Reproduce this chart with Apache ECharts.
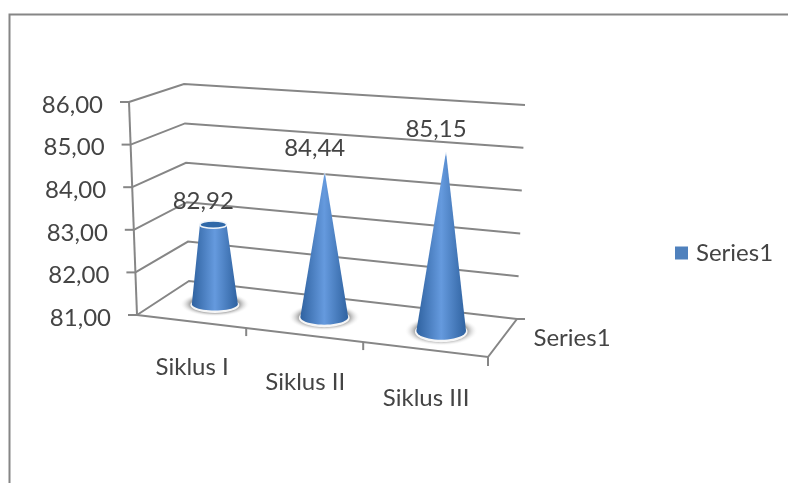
<!DOCTYPE html>
<html>
<head>
<meta charset="utf-8">
<style>
  html, body { margin: 0; padding: 0; background: #fff; }
  #chart { width: 788px; height: 483px; }
</style>
<script src="https://cdn.jsdelivr.net/npm/echarts@6/dist/echarts.min.js"></script>
</head>
<body>
<div id="chart"></div>
<script>
const categories = ['Siklus I', 'Siklus II', 'Siklus III'];
const values = [82.92, 84.44, 85.15];
const valueLabels = ['82,92', '84,44', '85,15'];
const topRatio = [0.58, 0, 0];
const valueTicks = [81, 82, 83, 84, 85, 86];
const tickLabels = ['81,00', '82,00', '83,00', '84,00', '85,00', '86,00'];
const seriesName = 'Series1';

const FONT = '24px Lato';
const TEXT = '#444';
const LINE = '#868686';

// corners of the 3d box on the page: front/back, left/right, bottom/top
const box = {
  flb: [137, 315], flt: [129, 102],
  blb: [189, 281], blt: [184, 84],
  frb: [488, 357], frt: [497, 135],
  brb: [517, 319], brt: [525, 105]
};

function lerp(a, b, t) {
  return [a[0] + (b[0] - a[0]) * t, a[1] + (b[1] - a[1]) * t];
}

// grid position (from the axes) + depth -> point on the skewed box
function project(sys, px, py, d) {
  const u = (px - sys.x) / sys.width;
  const v = (sys.y + sys.height - py) / sys.height;
  const w = 0.9 * u + 0.1 * u * u; // bars get wider toward the viewer
  const left = lerp(lerp(box.flb, box.flt, v), lerp(box.blb, box.blt, v), d);
  const right = lerp(lerp(box.frb, box.frt, v), lerp(box.brb, box.brt, v), d);
  return lerp(left, right, w);
}

function line(points) {
  return {
    type: 'polyline',
    shape: { points: points },
    style: { stroke: LINE, lineWidth: 2, fill: null }
  };
}

function label(text, x, y, align) {
  return {
    type: 'text',
    x: x,
    y: y,
    style: { text: text, fill: TEXT, font: FONT, align: align || 'center', verticalAlign: 'middle' }
  };
}

function renderWall(params, api) {
  const sys = params.coordSys;
  const left = sys.x;
  const right = sys.x + sys.width;
  const y = api.coord([0, api.value(0)])[1];
  const fl = project(sys, left, y, 0);
  const bl = project(sys, left, y, 1);
  const br = project(sys, right, y, 1);
  const kids = [
    line([fl, bl, br]),
    line([[fl[0] - 9, fl[1]], fl]),
    label(tickLabels[params.dataIndex], fl[0] - 26, fl[1] + 3, 'right')
  ];
  if (params.dataIndex === 0) {
    const top = sys.y;
    const fr = project(sys, right, y, 0);
    kids.push(line([fl, project(sys, left, top, 0)]));
    kids.push(line([fl, fr, br, [br[0] + 8, br[1]]]));
    kids.push(line([fr, [fr[0], fr[1] + 9]]));
    const mid = project(sys, right, y, 0.5);
    kids.push(label(seriesName, mid[0] + 31, mid[1], 'left'));
  }
  return { type: 'group', children: kids };
}

function renderCategory(params, api) {
  const sys = params.coordSys;
  const base = api.coord([api.value(0), valueTicks[0]]);
  const band = api.size([1, 0])[0];
  const kids = [];
  const mid = project(sys, base[0], base[1], 0);
  kids.push(label(categories[params.dataIndex], mid[0] + 1.5, mid[1] + 46 + params.dataIndex * 1.5));
  if (params.dataIndex < categories.length - 1) {
    const t = project(sys, base[0] + band / 2, base[1], 0);
    kids.push(line([t, [t[0], t[1] + 8]]));
  }
  return { type: 'group', children: kids };
}

function renderCone(params, api) {
  const sys = params.coordSys;
  const i = params.dataIndex;
  const foot = api.coord([api.value(0), valueTicks[0]]);
  const head = api.coord([api.value(0), api.value(1)]);
  const b = project(sys, foot[0], foot[1], 0.5);
  const t = project(sys, head[0], head[1], 0.5);
  const rx = 23 + 0.9 * i;
  const ry = rx * (0.28 + 0.04 * i);
  const tx = rx * topRatio[i];
  const ty = ry * topRatio[i];
  const pts = [];
  for (let a = 0; a <= 24; a++) {
    const ang = Math.PI * a / 24;
    pts.push([b[0] - rx * Math.cos(ang), b[1] + ry * Math.sin(ang)]);
  }
  if (tx > 0) {
    for (let a = 0; a <= 24; a++) {
      const ang = Math.PI * a / 24;
      pts.push([t[0] + tx * Math.cos(ang), t[1] + ty * Math.sin(ang)]);
    }
  } else {
    pts.push(t);
  }
  const haloR = rx + 12;
  const kids = [
    {
      // soft shadow on the floor, a circle squashed so the gradient follows the ellipse
      type: 'circle',
      x: b[0],
      y: b[1],
      scaleY: (ry + 6) / haloR,
      shape: { cx: 0, cy: 0, r: haloR },
      style: {
        fill: {
          type: 'radial', x: 0.5, y: 0.5, r: 0.5,
          colorStops: [
            { offset: 0, color: '#a0a0a0' },
            { offset: 0.72, color: '#adadad' },
            { offset: 1, color: 'rgba(255,255,255,0)' }
          ]
        }
      }
    },
    {
      type: 'ellipse',
      shape: { cx: b[0], cy: b[1] + 1, rx: rx + 1.5, ry: ry + 1.5 },
      style: { fill: '#f6f6f6' }
    },
    {
      type: 'polygon',
      shape: { points: pts },
      style: {
        fill: {
          type: 'linear', x: 0, y: 0, x2: 1, y2: 0,
          colorStops: [
            { offset: 0, color: '#2f62a0' },
            { offset: 0.5, color: '#659ade' },
            { offset: 1, color: '#2f62a0' }
          ]
        }
      }
    }
  ];
  if (tx > 0) {
    kids.push({
      type: 'ellipse',
      shape: { cx: t[0], cy: t[1], rx: tx, ry: ty },
      style: { fill: '#2f68a8', stroke: '#eef4fa', lineWidth: 1.5 }
    });
  } else {
    // the point fades out into the white
    kids.push({
      type: 'polygon',
      shape: { points: [[t[0] - 2, t[1] + 5], [t[0] + 2, t[1] + 5], [t[0], t[1] - 1]] },
      style: {
        fill: {
          type: 'linear', x: 0, y: 0, x2: 0, y2: 1,
          colorStops: [
            { offset: 0, color: 'rgba(255,255,255,1)' },
            { offset: 1, color: 'rgba(255,255,255,0)' }
          ]
        }
      }
    });
  }
  kids.push(label(valueLabels[i], t[0] - 10, t[1] - 23));
  return { type: 'group', children: kids };
}

const chart = echarts.init(document.getElementById('chart'), null, { renderer: 'canvas' });

chart.setOption({
  animation: false,
  backgroundColor: '#fff',
  grid: { left: 137, top: 102, width: 351, height: 213 },
  xAxis: { type: 'category', data: categories, show: false },
  yAxis: { type: 'value', min: 81, max: 86, interval: 1, show: false },
  legend: {
    left: 670,
    top: 236,
    itemWidth: 13,
    itemHeight: 13,
    data: [{ name: seriesName, icon: 'rect' }],
    textStyle: { fontFamily: 'Lato', fontSize: 24, color: TEXT, padding: [0, 0, 0, 3] }
  },
  graphic: [{
    type: 'polyline',
    silent: true,
    shape: { points: [[9.5, 483], [9.5, 14.5], [788, 14.5]] },
    style: { stroke: '#868686', lineWidth: 2, fill: null }
  }],
  series: [
    {
      type: 'custom',
      name: 'axis',
      silent: true,
      clip: false,
      z: 1,
      encode: { y: 0 },
      data: valueTicks.map(v => [v]),
      renderItem: renderWall
    },
    {
      type: 'custom',
      name: 'categories',
      silent: true,
      clip: false,
      z: 2,
      encode: { x: 0 },
      data: categories.map((c, i) => [i]),
      renderItem: renderCategory
    },
    {
      type: 'custom',
      name: seriesName,
      clip: false,
      z: 3,
      itemStyle: { color: '#4f81bd' },
      encode: { x: 0, y: 1 },
      data: categories.map((c, i) => [i, values[i]]),
      renderItem: renderCone
    }
  ]
});

window.addEventListener('resize', () => chart.resize());
</script>
</body>
</html>
